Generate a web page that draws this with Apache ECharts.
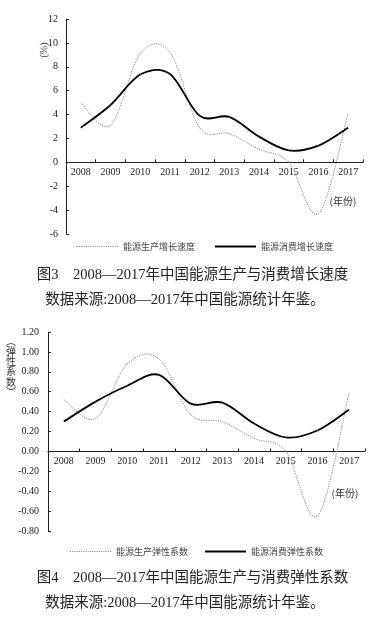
<!DOCTYPE html>
<html><head><meta charset="utf-8">
<script src="https://cdn.jsdelivr.net/npm/echarts@6/dist/echarts.min.js"></script>
<style>html,body{margin:0;padding:0;background:#fff}#c{width:379px;height:620px}</style>
</head><body><div id="c"></div>
<script>
const years = ['2008','2009','2010','2011','2012','2013','2014','2015','2016','2017'];
const prodGrowth = [5.0, 3.1, 9.1, 9.2, 2.9, 2.4, 1.1, 0.0, -4.3, 4.1];
const consGrowth = [2.9, 4.8, 7.35, 7.4, 3.9, 3.8, 2.15, 1.0, 1.4, 2.9];
const prodElast = [0.52, 0.33, 0.88, 0.93, 0.37, 0.30, 0.13, 0.00, -0.65, 0.59];
const consElast = [0.30, 0.50, 0.66, 0.77, 0.48, 0.49, 0.28, 0.14, 0.21, 0.42];
const names = ['能源生产增长速度','能源消费增长速度','能源生产弹性系数','能源消费弹性系数'];
const yName2 = ['︵','弹','性','系','数','︶'];

const serif = '"Liberation Serif","Noto Sans CJK SC",serif';
const cjk = '"Noto Sans CJK SC",sans-serif';
const axisLineStyle = {color:'#222',width:1};
const tick = {show:true,inside:true,length:3,lineStyle:{color:'#222'}};

const grids = [
  {left:66,right:16,top:19,height:215,min:-6,max:12,interval:2},
  {left:48,right:14,top:332,height:199,min:-0.8,max:1.2,interval:0.2}
];

// Catmull-Rom style smoothing (uniform), drawn via the axes' coord system
function smoothRender(values, color, width, dash){
  return function(params, api){
    if (params.dataIndex !== 0) return null;
    const pts = values.map((v,i)=>api.coord([i, v]));
    const n = pts.length, k = 1/6, children = [];
    for (let i=0;i<n-1;i++){
      const p0 = pts[Math.max(i-1,0)], p1 = pts[i], p2 = pts[i+1], p3 = pts[Math.min(i+2,n-1)];
      children.push({type:'bezierCurve',
        shape:{x1:p1[0],y1:p1[1],x2:p2[0],y2:p2[1],
          cpx1:p1[0]+(p2[0]-p0[0])*k, cpy1:p1[1]+(p2[1]-p0[1])*k,
          cpx2:p2[0]-(p3[0]-p1[0])*k, cpy2:p2[1]-(p3[1]-p1[1])*k},
        style:{stroke:color,lineWidth:width,fill:null,lineDash:dash}});
    }
    return {type:'group',children};
  };
}
let dotIcon = 'path://';
for (let x=0;x<41;x+=2.2) dotIcon += 'M'+x.toFixed(1)+',0h1.1v1.1h-1.1z';
const solidIcon = 'path://M0,0h41v2h-41z';

const chart = echarts.init(document.getElementById('c'), null, {renderer:'canvas'});
function xAx(gi){
  const g = grids[gi];
  return {type:'category',gridIndex:gi,data:years,boundaryGap:true,
    axisLine:{onZero:false,lineStyle:axisLineStyle},
    offset:-g.height*(0-g.min)/(g.max-g.min),
    axisTick:tick,
    axisLabel:{fontFamily:serif,fontSize:10,color:'#222',margin:5},splitLine:{show:false}};
}
function yAx(gi, fmt, margin){
  const g = grids[gi];
  return {type:'value',gridIndex:gi,min:g.min,max:g.max,interval:g.interval,
    axisLine:{show:true,lineStyle:axisLineStyle},axisTick:tick,
    axisLabel:{fontFamily:serif,fontSize:10,color:'#222',margin:margin,formatter:fmt},splitLine:{show:false}};
}
const grey = '#8a8a8a';
function ser(i, gi, vals, color, width, dash){
  return {name:names[i],type:'custom',xAxisIndex:gi,yAxisIndex:gi,
    data:vals.map((v,j)=>[j,v]),encode:{x:0,y:1},
    itemStyle:{color:color},renderItem:smoothRender(vals,color,width,dash),z:dash?2:3,silent:true};
}
const graphics = [
  {type:'text',x:44,y:50,rotation:Math.PI/2,style:{text:'(%)',fontFamily:serif,fontSize:10,fill:'#333',align:'center',verticalAlign:'middle'}},
  {type:'text',x:343,y:201,style:{text:'(年份)',fontFamily:cjk,fontSize:10,fill:'#333',align:'center',verticalAlign:'middle'}},
  {type:'text',x:345,y:493,style:{text:'(年份)',fontFamily:cjk,fontSize:10,fill:'#333',align:'center',verticalAlign:'middle'}},
  {type:'text',x:192.5,y:275,style:{text:'图3　2008—2017年中国能源生产与消费增长速度',fontFamily:serif,fontSize:14.5,fill:'#222',align:'center',verticalAlign:'middle'}},
  {type:'text',x:185,y:300,style:{text:'数据来源:2008—2017年中国能源统计年鉴。',fontFamily:serif,fontSize:14.5,fill:'#222',align:'center',verticalAlign:'middle'}},
  {type:'text',x:192.5,y:578,style:{text:'图4　2008—2017年中国能源生产与消费弹性系数',fontFamily:serif,fontSize:14.5,fill:'#222',align:'center',verticalAlign:'middle'}},
  {type:'text',x:185,y:603,style:{text:'数据来源:2008—2017年中国能源统计年鉴。',fontFamily:serif,fontSize:14.5,fill:'#222',align:'center',verticalAlign:'middle'}}
];
yName2.forEach((ch,i)=>graphics.push({type:'text',x:11,y:341+i*10.2,
  style:{text:ch,fontFamily:cjk,fontSize:10,fill:'#333',align:'center',verticalAlign:'middle'}}));

chart.setOption({
  animation:false,
  backgroundColor:'#fff',
  grid:grids.map(g=>({left:g.left,right:g.right,top:g.top,height:g.height})),
  xAxis:[xAx(0),xAx(1)],
  yAxis:[yAx(0, null, 8), yAx(1, v=>v.toFixed(2), 9)],
  legend:[
    {data:[{name:names[0],icon:dotIcon},{name:names[1],icon:solidIcon}],left:77,top:242,padding:0,itemWidth:41,itemHeight:10,itemGap:20,
     textStyle:{fontFamily:cjk,fontSize:9,color:'#444'},selectedMode:false},
    {data:[{name:names[2],icon:dotIcon},{name:names[3],icon:solidIcon}],left:70,top:547,padding:0,itemWidth:41,itemHeight:10,itemGap:17,
     textStyle:{fontFamily:cjk,fontSize:9,color:'#444'},selectedMode:false}
  ],
  series:[
    ser(0,0,prodGrowth,grey,1,[1.2,1.2]),
    ser(1,0,consGrowth,'#000',1.8,null),
    ser(2,1,prodElast,grey,1,[1.2,1.2]),
    ser(3,1,consElast,'#000',1.8,null)
  ],
  graphic:graphics
});
</script></body></html>
